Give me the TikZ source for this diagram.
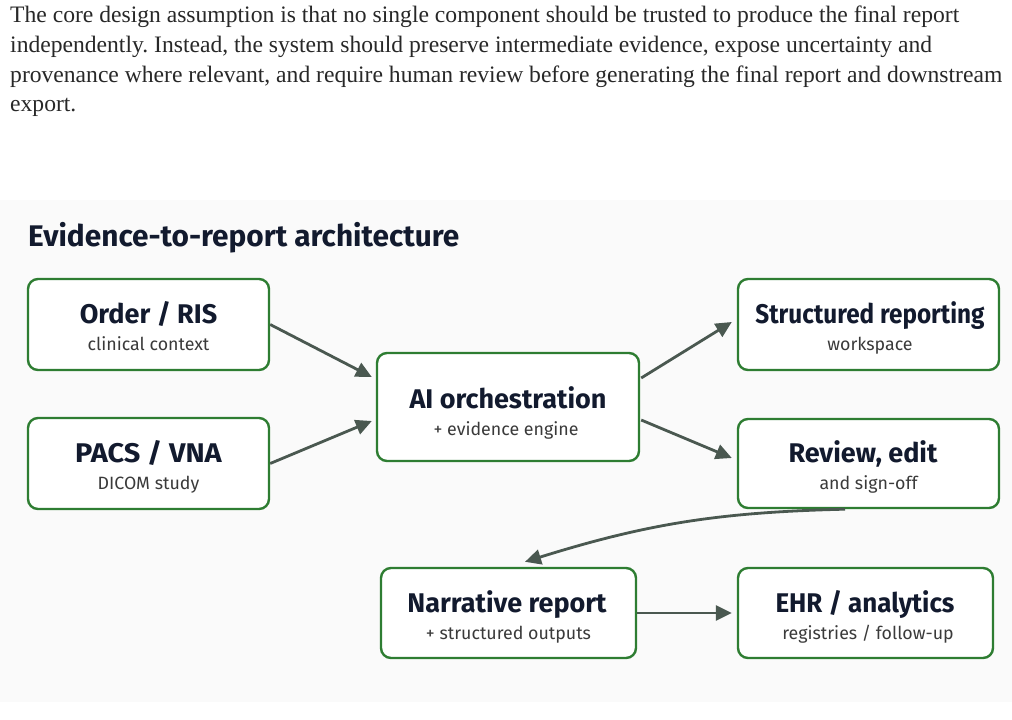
\documentclass[tikz,border=0pt]{standalone}
\usepackage{fontspec}
\usetikzlibrary{arrows.meta,calc}
\setmainfont{Liberation Serif}
\newfontfamily\dsans{Fira Sans}
\newfontfamily\dsansn{Fira Sans}[FakeStretch=0.9]
\newfontfamily\dsansm{Fira Sans}[FakeStretch=0.96]
\newfontfamily\dsansw{Fira Sans}[FakeStretch=1.07]
\definecolor{boxgreen}{RGB}{46,125,50}
\definecolor{arrowc}{RGB}{74,88,80}
\definecolor{navy}{RGB}{18,26,46}
\definecolor{subgray}{RGB}{58,58,58}
\definecolor{paratext}{RGB}{40,40,40}
\definecolor{panel}{RGB}{250,250,250}
\frenchspacing
\begin{document}
\begin{tikzpicture}[x=1pt,y=-1pt,
  para/.style={anchor=base west,inner sep=0pt,text=paratext,font=\fontsize{23.6}{28}\selectfont},
  heading/.style={anchor=base west,inner sep=0pt,text=navy,font=\dsans\bfseries\fontsize{29.8}{32}\selectfont},
  box/.style={draw=boxgreen,line width=2.4pt,rounded corners=10pt,fill=white,inner sep=0pt},
  ttl/.style={anchor=base,inner sep=0pt,text=navy,font=\dsans\bfseries\fontsize{27}{30}\selectfont},
  sub/.style={anchor=base,inner sep=0pt,text=subgray,font=\dsans\fontsize{17.8}{20}\selectfont},
  arr/.style={draw=arrowc,line width=2.8pt,-{Triangle[length=16pt,width=15pt]}}
]
\useasboundingbox (0,0) rectangle (1012,720);
\fill[white] (0,0) rectangle (1012,720);
\fill[panel] (0,200) rectangle (1012,702);

\node[para] (p1) at (10,23) {The core design assumption is that no single component should be trusted to produce the final report};
\node[para] (p2) at (10,52.5) {independently. Instead, the system should preserve intermediate evidence, expose uncertainty and};
\node[para] (p3) at (10,82) {provenance where relevant, and require human review before generating the final report and downstream};
\node[para] (p4) at (10,111) {export.};

\node[heading] (head) at (28,246) {Evidence-to-report architecture};

% boxes
\node[box,minimum width=241pt,minimum height=91pt] (ord) at (148.5,324.5) {};
\node[ttl] (ordt) at (148.5,323) {Order / RIS};
\node[sub] (ords) at (148.5,350) {clinical context};

\node[box,minimum width=241pt,minimum height=91pt] (pacs) at (148.5,463.5) {};
\node[ttl,font=\dsansw\bfseries\fontsize{27}{30}\selectfont] (pacst) at (148.5,462) {PACS / VNA};
\node[sub] (pacss) at (148.5,489) {DICOM study};

\node[box,minimum width=262pt,minimum height=108pt] (ai) at (508,407) {};
\node[ttl] (ait) at (508,408) {AI orchestration};
\node[sub] (ais) at (506,435) {+ evidence engine};

\node[box,minimum width=261pt,minimum height=91pt] (str) at (868.5,324.5) {};
\node[ttl,font=\dsansn\bfseries\fontsize{27}{30}\selectfont] (strt) at (870,323) {Structured reporting};
\node[sub] (strs) at (870,350) {workspace};

\node[box,minimum width=261pt,minimum height=89pt] (rev) at (868.5,463.5) {};
\node[ttl] (revt) at (863,462) {Review, edit};
\node[sub] (revs) at (868.5,489) {and sign-off};

\node[box,minimum width=255pt,minimum height=90pt] (nar) at (508.5,613) {};
\node[ttl] (nart) at (507,612) {Narrative report};
\node[sub] (nars) at (508.5,639) {+ structured outputs};

\node[box,minimum width=255pt,minimum height=90pt] (ehr) at (865.5,613) {};
\node[ttl,font=\dsansm\bfseries\fontsize{27}{30}\selectfont] (ehrt) at (865,612) {EHR / analytics};
\node[sub] (ehrs) at (868,639) {registries / follow-up};

% connectors
\draw[arr] (ord.east) -- ($(ai.west)+(-4,-30)$);
\draw[arr] (pacs.east) -- ($(ai.west)+(-4,14)$);
\draw[arr] ($(ai.east)+(1,-29)$) -- ($(str.west)+(-5,-2.5)$);
\draw[arr] ($(ai.east)+(1,13)$) -- ($(rev.west)+(-5,-5.5)$);
\draw[arr] ($(rev.south)+(-23.5,0)$) to[bend right=8] ($(nar.north)+(16.5,-5)$);
\draw[arr] (nar.east) -- ($(ehr.west)+(-5,0)$);
\end{tikzpicture}
\end{document}
